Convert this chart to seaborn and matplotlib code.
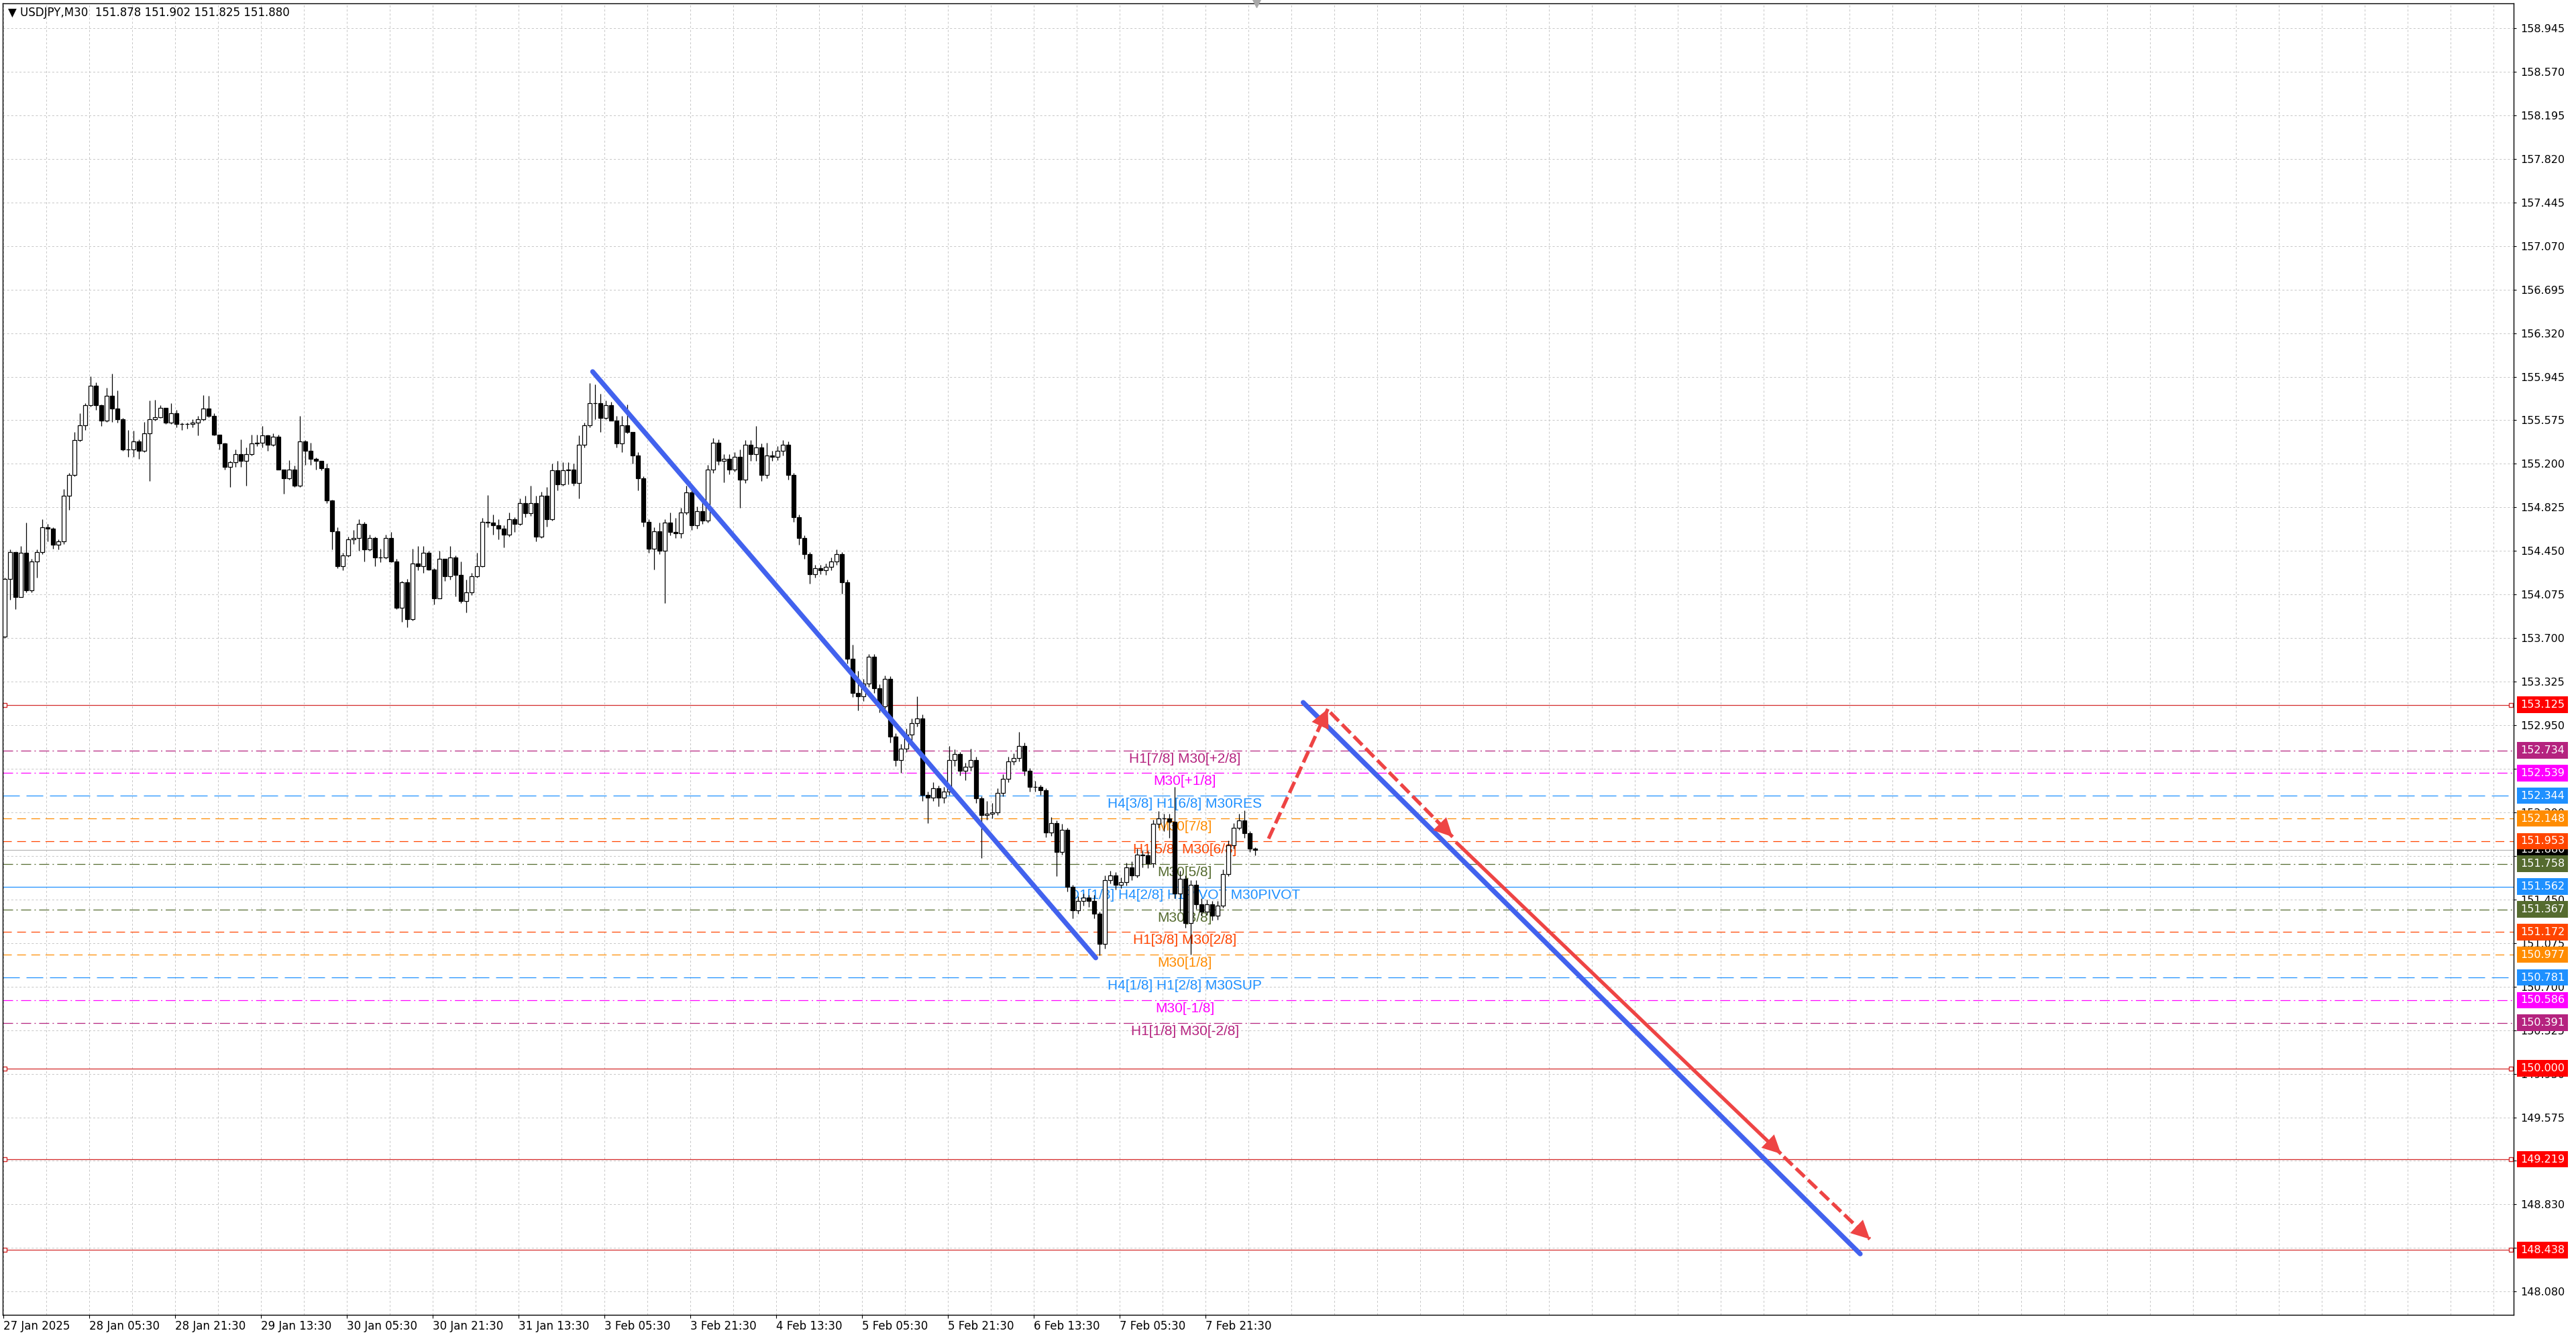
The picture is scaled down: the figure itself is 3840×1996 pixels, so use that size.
import numpy as np
import matplotlib
matplotlib.use('Agg')
import matplotlib.pyplot as plt
import matplotlib.transforms as mtransforms
import seaborn as sns

# USDJPY M30 chart (drawn as 1h candles, 2 bars each)
first_open = 153.71

closes = [
    154.21, 154.44, 154.05, 154.43, 154.11, 154.36, 154.44, 154.65, 154.64, 154.50,
    154.53, 154.92, 155.10, 155.40, 155.53, 155.70, 155.87, 155.70, 155.57, 155.78,
    155.67, 155.58, 155.32, 155.32, 155.39, 155.31, 155.46, 155.58, 155.60, 155.68,
    155.55, 155.63, 155.54, 155.54, 155.54, 155.55, 155.58, 155.67, 155.61, 155.45,
    155.37, 155.17, 155.21, 155.28, 155.22, 155.28, 155.37, 155.38, 155.44, 155.36,
    155.43, 155.15, 155.07, 155.15, 155.01, 155.39, 155.31, 155.24, 155.22, 155.16,
    154.88, 154.62, 154.32, 154.41, 154.55, 154.56, 154.68, 154.46, 154.56, 154.39,
    154.39, 154.56, 154.36, 153.96, 154.18, 153.86, 154.34, 154.32, 154.43, 154.29,
    154.04, 154.38, 154.23, 154.39, 154.24, 154.02, 154.09, 154.23, 154.32, 154.70,
    154.69, 154.67, 154.64, 154.59, 154.72, 154.68, 154.86, 154.77, 154.86, 154.57,
    154.92, 154.72, 155.14, 155.02, 155.14, 155.15, 155.03, 155.36, 155.53, 155.72,
    155.72, 155.59, 155.70, 155.57, 155.37, 155.53, 155.47, 155.27, 155.07, 154.70,
    154.47, 154.62, 154.45, 154.69, 154.61, 154.60, 154.78, 154.95, 154.67, 154.79,
    154.71, 155.15, 155.38, 155.22, 155.24, 155.15, 155.26, 155.06, 155.36, 155.28,
    155.34, 155.10, 155.27, 155.26, 155.31, 155.36, 155.10, 154.74, 154.56, 154.42,
    154.25, 154.30, 154.28, 154.31, 154.36, 154.42, 154.18, 153.52, 153.23, 153.20,
    153.31, 153.54, 153.27, 153.11, 153.35, 152.85, 152.65, 152.75, 152.87, 152.97,
    153.01, 152.35, 152.33, 152.41, 152.33, 152.38, 152.65, 152.70, 152.56, 152.59,
    152.65, 152.32, 152.18, 152.19, 152.20, 152.37, 152.49, 152.64, 152.67, 152.77,
    152.56, 152.42, 152.42, 152.39, 152.03, 152.11, 151.86, 152.05, 151.56, 151.36,
    151.44, 151.47, 151.44, 151.33, 151.07, 151.62, 151.66, 151.58, 151.60, 151.73,
    151.66, 151.84, 151.83, 151.76, 152.10, 152.15, 152.15, 152.12, 151.50, 151.63,
    151.25, 151.58, 151.41, 151.35, 151.41, 151.31, 151.40, 151.67, 151.92, 152.07,
    152.13, 152.02, 151.89, 151.88,
]

highs = [
    154.22, 154.46, 154.44, 154.49, 154.69, 154.38, 154.46, 154.72, 154.68, 154.65,
    154.55, 154.98, 155.12, 155.47, 155.63, 155.72, 155.95, 155.90, 155.71, 155.85,
    155.97, 155.83, 155.59, 155.49, 155.48, 155.41, 155.56, 155.74, 155.75, 155.70,
    155.68, 155.72, 155.66, 155.55, 155.55, 155.58, 155.61, 155.79, 155.78, 155.63,
    155.45, 155.38, 155.22, 155.32, 155.41, 155.34, 155.45, 155.45, 155.52, 155.45,
    155.46, 155.45, 155.15, 155.23, 155.18, 155.61, 155.40, 155.38, 155.25, 155.22,
    155.20, 154.89, 154.65, 154.43, 154.57, 154.63, 154.72, 154.70, 154.59, 154.57,
    154.47, 154.59, 154.61, 154.38, 154.19, 154.21, 154.47, 154.49, 154.49, 154.45,
    154.30, 154.45, 154.38, 154.49, 154.41, 154.36, 154.20, 154.26, 154.43, 154.73,
    154.93, 154.76, 154.72, 154.67, 154.78, 154.74, 154.90, 154.92, 155.01, 154.92,
    154.96, 155.00, 155.20, 155.22, 155.21, 155.21, 155.20, 155.44, 155.55, 155.89,
    155.88, 155.80, 155.74, 155.73, 155.61, 155.61, 155.71, 155.47, 155.30, 155.09,
    154.72, 154.65, 154.69, 154.72, 154.78, 154.73, 154.82, 155.01, 154.98, 154.83,
    154.91, 155.19, 155.42, 155.41, 155.28, 155.28, 155.30, 155.32, 155.40, 155.40,
    155.52, 155.37, 155.38, 155.31, 155.35, 155.40, 155.39, 155.12, 154.76, 154.58,
    154.44, 154.33, 154.33, 154.34, 154.39, 154.46, 154.44, 154.20, 153.64, 153.42,
    153.35, 153.56, 153.56, 153.30, 153.38, 153.37, 152.88, 152.79, 152.92, 153.01,
    153.20, 153.04, 152.38, 152.46, 152.43, 152.42, 152.77, 152.74, 152.72, 152.63,
    152.75, 152.68, 152.34, 152.30, 152.28, 152.41, 152.53, 152.68, 152.71, 152.89,
    152.80, 152.58, 152.47, 152.44, 152.41, 152.16, 152.13, 152.10, 152.07, 151.58,
    151.48, 151.50, 151.49, 151.49, 151.35, 151.66, 151.70, 151.69, 151.64, 151.77,
    151.78, 151.89, 151.87, 151.87, 152.14, 152.21, 152.19, 152.19, 152.42, 151.70,
    151.66, 151.62, 151.62, 151.46, 151.45, 151.44, 151.44, 151.71, 151.96, 152.11,
    152.19, 152.22, 152.04, 151.90,
]

lows = [
    153.70, 154.03, 153.95, 154.05, 154.09, 154.09, 154.22, 154.42, 154.53, 154.47,
    154.46, 154.51, 154.80, 155.09, 155.39, 155.49, 155.69, 155.66, 155.52, 155.56,
    155.56, 155.55, 155.31, 155.26, 155.26, 155.24, 155.30, 155.05, 155.57, 155.59,
    155.54, 155.54, 155.51, 155.49, 155.50, 155.51, 155.44, 155.57, 155.60, 155.44,
    155.32, 155.15, 155.00, 155.17, 155.17, 155.01, 155.27, 155.35, 155.34, 155.31,
    155.35, 155.15, 154.94, 155.06, 155.00, 155.00, 155.19, 155.19, 155.15, 155.14,
    154.86, 154.46, 154.30, 154.28, 154.40, 154.51, 154.45, 154.36, 154.45, 154.32,
    154.35, 154.38, 154.35, 153.95, 153.84, 153.79, 153.85, 154.28, 154.26, 154.28,
    153.99, 154.04, 154.19, 154.20, 154.06, 154.00, 153.92, 154.07, 154.22, 154.31,
    154.65, 154.59, 154.55, 154.48, 154.57, 154.61, 154.67, 154.74, 154.75, 154.53,
    154.56, 154.66, 154.71, 154.97, 155.01, 155.02, 155.01, 154.90, 155.34, 155.51,
    155.58, 155.47, 155.58, 155.57, 155.34, 155.30, 155.46, 155.20, 154.97, 154.66,
    154.43, 154.29, 154.42, 154.00, 154.58, 154.56, 154.56, 154.76, 154.63, 154.64,
    154.68, 154.69, 155.12, 155.19, 155.04, 155.11, 155.13, 154.82, 155.03, 155.22,
    155.22, 155.05, 155.07, 155.22, 155.23, 155.27, 155.06, 154.70, 154.50, 154.38,
    154.17, 154.22, 154.25, 154.24, 154.28, 154.33, 154.08, 153.48, 153.19, 153.08,
    153.16, 153.28, 153.23, 153.06, 153.08, 152.80, 152.60, 152.54, 152.72, 152.82,
    152.94, 152.30, 152.11, 152.30, 152.25, 152.28, 152.35, 152.60, 152.52, 152.48,
    152.56, 152.28, 151.81, 152.14, 152.15, 152.18, 152.34, 152.46, 152.61, 152.64,
    152.52, 152.38, 152.38, 152.35, 151.99, 152.00, 151.65, 151.84, 151.52, 151.29,
    151.33, 151.40, 151.39, 151.29, 150.97, 151.03, 151.59, 151.54, 151.55, 151.57,
    151.62, 151.64, 151.73, 151.72, 151.73, 152.07, 152.04, 151.98, 151.46, 151.35,
    151.21, 150.98, 151.37, 151.31, 151.32, 151.27, 151.28, 151.38, 151.65, 151.89,
    152.05, 151.98, 151.86, 151.83,
]

time_labels = ['27 Jan 2025', '28 Jan 05:30', '28 Jan 21:30', '29 Jan 13:30',
               '30 Jan 05:30', '30 Jan 21:30', '31 Jan 13:30', '3 Feb 05:30',
               '3 Feb 21:30', '4 Feb 13:30', '5 Feb 05:30', '5 Feb 21:30',
               '6 Feb 13:30', '7 Feb 05:30', '7 Feb 21:30']
label_bars = [0, 32, 64, 96, 128, 160, 192, 224, 256, 288, 320, 352, 384, 416, 448]

price_ticks = [158.945, 158.570, 158.195, 157.820, 157.445, 157.070, 156.695, 156.320,
               155.945, 155.575, 155.200, 154.825, 154.450, 154.075, 153.700, 153.325,
               152.950, 152.575, 152.200, 151.825, 151.450, 151.075, 150.700, 150.325,
               149.950, 149.575, 149.205, 148.830, 148.455, 148.080]

level_prices = [152.734, 152.539, 152.344, 152.148, 151.953, 151.758, 151.562,
                151.367, 151.172, 150.977, 150.781, 150.586, 150.391]
level_names = ['H1[7/8] M30[+2/8]', 'M30[+1/8]', 'H4[3/8] H1[6/8] M30RES', 'M30[7/8]',
               'H1[5/8] M30[6/8]', 'M30[5/8]', 'D1[1/8] H4[2/8] H1PIVOT M30PIVOT',
               'M30[3/8]', 'H1[3/8] M30[2/8]', 'M30[1/8]', 'H4[1/8] H1[2/8] M30SUP',
               'M30[-1/8]', 'H1[1/8] M30[-2/8]']
level_colors = ['#b5237f', '#ff00ff', '#1e90ff', '#ff8c00', '#ff4500', '#556b2f', '#1e90ff',
                '#556b2f', '#ff4500', '#ff8c00', '#1e90ff', '#ff00ff', '#b5237f']
level_kinds = ['dashdot', 'dashdot', 'longdash', 'dash', 'dash', 'dashdot', 'solid',
               'dashdot', 'dash', 'dash', 'longdash', 'dashdot', 'dashdot']

round_levels = [153.125, 150.000, 149.219, 148.438]
bid_price = 151.880

# blue channel lines (bar index, price)
line1_x = [219.6, 407.1]
line1_y = [155.99, 150.95]
line2_x = [484.4, 692.0]
line2_y = [153.146, 148.405]

# red projection arrows
arrow_x0 = [471.5, 494.5, 541.3, 663.5]
arrow_y0 = [151.975, 153.06, 151.946, 149.24]
arrow_x1 = [493.6, 540.1, 662.5, 695.6]
arrow_y1 = [153.09, 151.99, 149.265, 148.532]
arrow_dashed = [True, True, False, True]

title_text = '\u25bc USDJPY,M30  151.878 151.902 151.825 151.880'

# ---------------------------------------------------------------------------
sns.set_style('ticks')
plt.rcParams['font.family'] = ['DejaVu Sans']
plt.rcParams['lines.scale_dashes'] = False

W, H = 3840, 1996
fig = plt.figure(figsize=(W / 100, H / 100), dpi=100)
fig.patch.set_facecolor('white')
ax = fig.add_axes([4 / W, 1 - 1960 / H, 3743 / W, 1955 / H])
ax.set_facecolor('white')
ax.set_xlim(-0.25, 935.5)
ax.set_ylim(147.881, 159.156)

# grid
grid_style = (0, (2.2, 2.2))
for gx in np.arange(0, 936, 16):
    ax.axvline(gx, color='#c6c6c6', lw=0.7, ls=grid_style, zorder=0)
for ty in price_ticks:
    ax.axhline(ty, color='#c6c6c6', lw=0.7, ls=grid_style, zorder=0)

# level lines and names (behind the candles)
dash_styles = {'solid': '-', 'dashdot': (0, (10.8, 3.6, 1.4, 3.6)),
               'longdash': (0, (18, 7.2)), 'dash': (0, (9.4, 5.8))}
for p, name, c, kind in zip(level_prices, level_names, level_colors, level_kinds):
    ax.axhline(p, color=c, lw=0.9, ls=dash_styles[kind], zorder=1)
    ax.annotate(name, xy=(440.3, p), xytext=(0, -3), textcoords='offset pixels',
                ha='center', va='top', fontsize=15, color=c,
                family=['Liberation Sans', 'DejaVu Sans'], zorder=2)

ax.axhline(bid_price, color='#b8b8b8', lw=0.9, zorder=1)
for p in round_levels:
    ax.axhline(p, color='#d42a2a', lw=0.9, zorder=1)
    ax.plot([0.6, 934.6], [p, p], ls='none', marker='s', ms=4.5, mfc='white',
            mec='#d42a2a', mew=1.0, zorder=2, clip_on=False)

# candles
c = np.array(closes)
o = np.array([first_open] + closes[:-1])
hi = np.array(highs)
lo = np.array(lows)
xs = np.arange(len(c)) * 2 + 0.5
up = c >= o
ax.vlines(xs, lo, hi, color='black', lw=0.9, zorder=3)
ax.bar(xs[up], (c - o)[up], bottom=o[up], width=1.4, color='white',
       edgecolor='black', linewidth=0.9, zorder=4)
ax.bar(xs[~up], (o - c)[~up], bottom=c[~up], width=1.4, color='black',
       edgecolor='black', linewidth=0.9, zorder=4)

# blue channel lines
for lx, ly in [(line1_x, line1_y), (line2_x, line2_y)]:
    sns.lineplot(x=lx, y=ly, ax=ax, color='#4262ee', linewidth=5.2, legend=False,
                 zorder=6, solid_capstyle='round')

# red arrows
red = '#ee4444'
for x0, y0, x1, y1, dashed in zip(arrow_x0, arrow_y0, arrow_x1, arrow_y1, arrow_dashed):
    ax.plot([x0, x1], [y0, y1], color=red, lw=3.8,
            ls=(0, (13, 5)) if dashed else '-', zorder=7, solid_capstyle='butt')
    bx = x1 - (x1 - x0) * 0.15
    by = y1 - (y1 - y0) * 0.15
    ax.annotate('', xy=(x1, y1), xytext=(bx, by),
                arrowprops=dict(arrowstyle='-|>,head_length=0.9,head_width=0.45',
                                color=red, lw=0, shrinkA=0, shrinkB=0,
                                mutation_scale=22), zorder=8)

# axes, ticks, labels
for s in ax.spines.values():
    s.set_color('black')
    s.set_linewidth(1.0)
ax.yaxis.tick_right()
ax.set_yticks(price_ticks)
ax.set_yticklabels([f'{t:.3f}' for t in price_ticks])
ax.set_xticks(label_bars)
ax.set_xticklabels(time_labels, ha='left')
ax.tick_params(axis='y', which='both', right=True, left=False, length=2.9, width=0.8,
               pad=4.3, labelsize=11.5, colors='black')
ax.tick_params(axis='x', bottom=True, length=3.6, width=0.8, pad=2.5, labelsize=12,
               colors='black')
ax.set_xlabel('')
ax.set_ylabel('')

# coloured price tags on the right scale
tag_tr = mtransforms.blended_transform_factory(ax.transAxes, ax.transData)
tag_x = 1 + 10 / 3743
ax.text(tag_x, bid_price, f'{bid_price:.3f}', transform=tag_tr, ha='left', va='center',
        color='white', fontsize=11.5, clip_on=False, zorder=9,
        bbox=dict(boxstyle='square,pad=0.3', fc='black', ec='none'))
for p, col in zip(level_prices, level_colors):
    ax.text(tag_x, p, f'{p:.3f}', transform=tag_tr, ha='left', va='center',
            color='white', fontsize=11.5, clip_on=False, zorder=10,
            bbox=dict(boxstyle='square,pad=0.3', fc=col, ec='none'))
for p in round_levels:
    ax.text(tag_x, p, f'{p:.3f}', transform=tag_tr, ha='left', va='center',
            color='white', fontsize=11.5, clip_on=False, zorder=10,
            bbox=dict(boxstyle='square,pad=0.3', fc='#ff0000', ec='none'))

# chart shift marker and title
ax.plot([467], [159.156], marker='v', ms=8, color='#a8a8a8', clip_on=False, zorder=9)
fig.text(12 / W, 1 - 19 / H, title_text, ha='left', va='center', fontsize=12,
         color='black')

fig.savefig('out.png', dpi=100, facecolor='white')
